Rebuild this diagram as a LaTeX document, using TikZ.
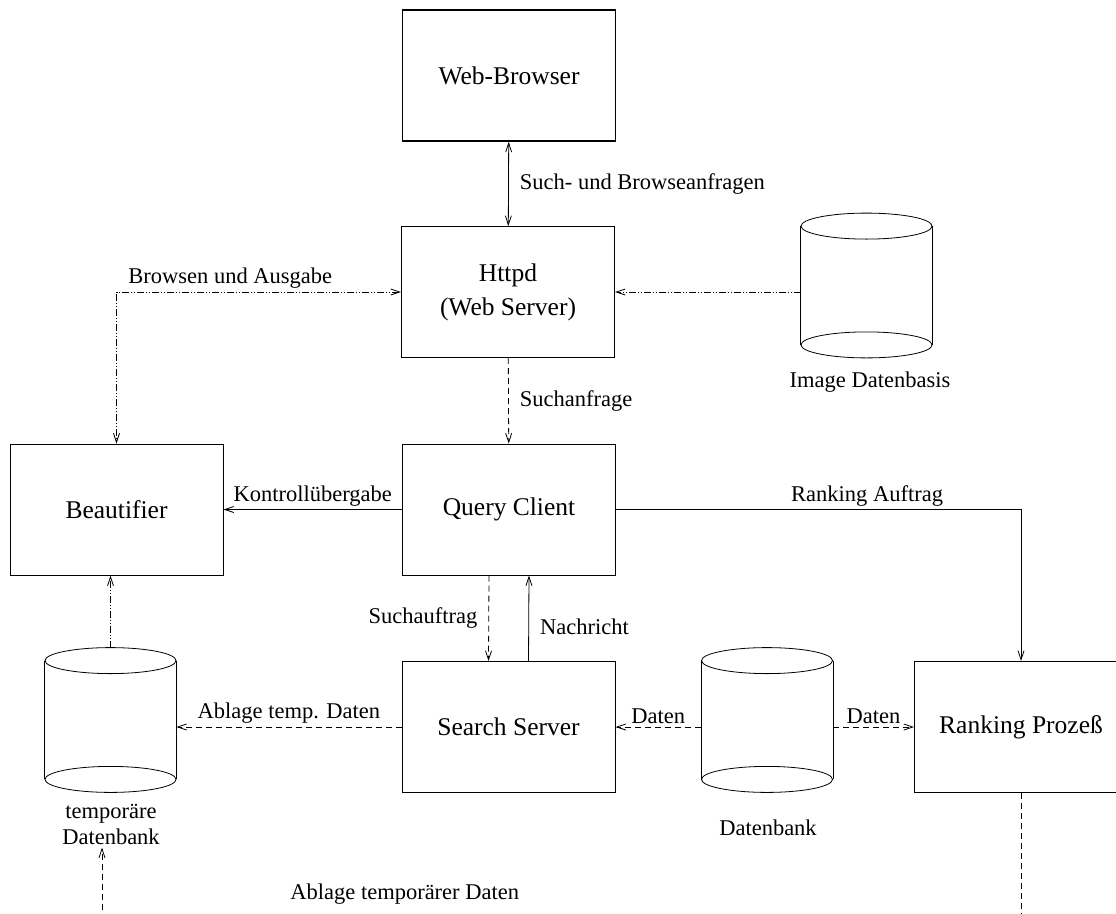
\documentclass[tikz,border=0pt]{standalone}
\usepackage{fontspec}
\setmainfont{Liberation Serif}
\usetikzlibrary{arrows.meta}

\begin{document}
\begin{tikzpicture}[x=1pt, y=-1pt, line width=0.8pt,
        >={Straight Barb[length=9pt,width=6pt]},
        box/.style={draw, line width=1pt, minimum width=213pt, minimum height=131pt, inner sep=0pt,
            align=center, font=\fontsize{25.5}{34}\selectfont},
        dbbox/.style={minimum width=131pt, minimum height=144pt, inner sep=0pt},
        lbl/.style={font=\fontsize{22.5}{26}\selectfont, inner sep=3pt},
        strich/.style={dash pattern=on 6pt off 4pt},
        strichpunkt/.style={dash pattern=on 7pt off 2pt on 1pt off 2pt on 1pt off 2pt}]
        \useasboundingbox (0,0) rectangle (1116,913);

        \node[box, line width=1.6pt] (browser) at (509,75.5) {Web-Browser};
        \node[box] (httpd) at (508,292) {Httpd\\(Web Server)};
        \node[box] (beautifier) at (116.5,509.5) {Beautifier};
        \node[box] (query) at (509,509.5) {Query Client};
        \node[box] (search) at (508.5,727) {Search Server};
        \node[box] (ranking) at (1021,727) {Ranking Prozeß};

        \node[dbbox] (imgdb) at (866.5,285.5) {};
        \node[dbbox] (tempdb) at (110.5,720) {};
        \node[dbbox] (datdb) at (767,720) {};

        \node[lbl] (imgdblabel) at (870,382) {Image Datenbasis};
        \node[lbl, align=center] (tempdblabel) at (111,824) {temporäre\\Datenbank};
        \node[lbl] (datdblabel) at (768,828) {Datenbank};
        \node[lbl, anchor=west] (ablage) at (287,894) {Ablage temporärer Daten};

        \coordinate (ablageunten) at (102,920);
        \coordinate (rankingunten) at (ranking.south |- ablageunten);

        % Datenbanken
        \foreach \db in {imgdb,tempdb,datdb} {
            \draw ([yshift=-13pt]\db.north) ellipse [x radius=65.5pt, y radius=13pt];
            \draw ([yshift=13pt]\db.south) ellipse [x radius=65.5pt, y radius=13pt];
            \draw ([yshift=-13pt]\db.north west) -- ([yshift=13pt]\db.south west);
            \draw ([yshift=-13pt]\db.north east) -- ([yshift=13pt]\db.south east);
        }

        \draw[<->] (browser) -- node[lbl, right=8pt] {Such- und Browseanfragen} (httpd);
        \draw[->, strich] (httpd) -- node[lbl, right=8pt] {Suchanfrage} (query);
        \draw[<->, strichpunkt] (httpd.west) -| node[lbl, above, pos=0.3] {Browsen und Ausgabe} (beautifier.north);
        \draw[->, strichpunkt] (imgdb.west |- httpd.east) -- (httpd.east);
        \draw[->] (query) -- node[lbl, above] {Kontrollübergabe} (beautifier);
        \draw[->] (query.east) -| node[lbl, above, pos=0.31] {Ranking Auftrag} (ranking.north);
        \draw[->, strich] ([xshift=-20pt]query.south) -- node[lbl, left=8pt] {Suchauftrag} ([xshift=-20pt]search.north);
        \draw[->] ([xshift=20pt]search.north) -- node[lbl, right=8pt, pos=0.4] {Nachricht} ([xshift=20pt]query.south);
        \draw[->, strich] (search.west) -- node[lbl, above] {Ablage temp. Daten} (search.west -| tempdb.east);
        \draw[->, strich] (datdb.west |- search.east) -- node[lbl, above] {Daten} (search.east);
        \draw[->, strich] (datdb.east |- ranking.west) -- node[lbl, above] {Daten} (ranking.west);
        \draw[->, strichpunkt] (tempdb.north) -- (tempdb.north |- beautifier.south);
        \draw[->, strich] (ablageunten) -- (ablageunten |- tempdblabel.south);
        \draw[strich] (ranking.south) -- (rankingunten);
\end{tikzpicture}
\end{document}
